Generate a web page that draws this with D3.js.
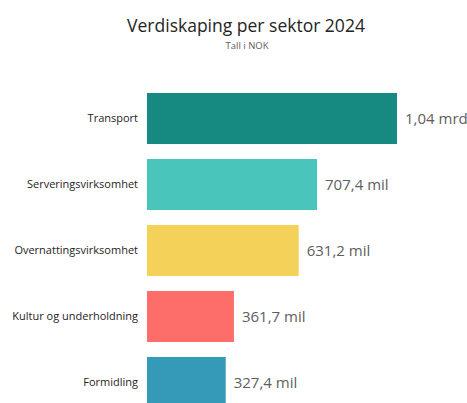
<!DOCTYPE html>
<html>
<head>
<meta charset="utf-8">
<script src="https://cdn.jsdelivr.net/npm/d3@7"></script>
<style>
  body { margin: 0; background: #fff; }
  text { font-family: "Open Sans", "Noto Sans", sans-serif; }
</style>
</head>
<body>
<div id="vis"></div>
<script>
const categories = ["Transport", "Serveringsvirksomhet", "Overnattingsvirksomhet", "Kultur og underholdning", "Formidling"];
const values = [1040, 707.4, 631.2, 361.7, 327.4]; // millioner NOK
const valueLabels = ["1,04 mrd", "707,4 mil", "631,2 mil", "361,7 mil", "327,4 mil"];
const colors = ["#168980", "#4AC5BB", "#F4D25A", "#FD6E6B", "#3599B8"];

const width = 467, height = 403;

const svg = d3.select("#vis")
  .append("svg")
    .attr("width", width)
    .attr("height", height);

svg.append("text")
  .attr("x", 246)
  .attr("y", 32)
  .attr("text-anchor", "middle")
  .attr("font-size", 17.5)
  .attr("fill", "#252423")
  .text("Verdiskaping per sektor 2024");

svg.append("text")
  .attr("x", 247)
  .attr("y", 49)
  .attr("text-anchor", "middle")
  .attr("font-size", 9.5)
  .attr("fill", "#605E5C")
  .text("Tall i NOK");

const data = categories.map((c, i) => ({ cat: c, value: values[i], label: valueLabels[i], color: colors[i] }));

const x = d3.scaleLinear()
  .domain([0, 1040])
  .range([147, 397]);

const y = d3.scaleBand()
  .domain(categories)
  .range([93, 408])
  .paddingInner(0.227)
  .paddingOuter(0);

svg.selectAll("rect.bar")
  .data(data)
  .join("rect")
    .attr("class", "bar")
    .attr("x", x(0))
    .attr("y", d => y(d.cat))
    .attr("width", d => x(d.value) - x(0))
    .attr("height", y.bandwidth())
    .attr("fill", d => d.color);

svg.selectAll("text.cat")
  .data(data)
  .join("text")
    .attr("class", "cat")
    .attr("x", 138)
    .attr("y", d => y(d.cat) + y.bandwidth() / 2)
    .attr("dy", "0.35em")
    .attr("text-anchor", "end")
    .attr("font-size", 11)
    .attr("fill", "#252423")
    .text(d => d.cat);

svg.selectAll("text.val")
  .data(data)
  .join("text")
    .attr("class", "val")
    .attr("x", d => x(d.value) + 8)
    .attr("y", d => y(d.cat) + y.bandwidth() / 2)
    .attr("dy", "0.35em")
    .attr("font-size", 15)
    .attr("fill", "#605E5C")
    .text(d => d.label);
</script>
</body>
</html>
